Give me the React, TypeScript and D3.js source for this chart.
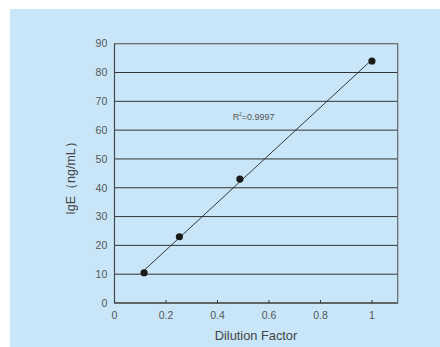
import React from "react";
import * as d3 from "d3";

const dilution = [0.115, 0.252, 0.487, 1.0];
const ige = [10.5, 23, 43, 84];
const yTicks = [0, 10, 20, 30, 40, 50, 60, 70, 80, 90];
const xTicks = [0, 0.2, 0.4, 0.6, 0.8, 1];
const r2Label = "0.9997";

export default function App() {
  const W = 440, H = 347;
  const left = 114.5, right = 397.7, top = 43.7, bottom = 303;
  const x = d3.scaleLinear().domain([0, 1.1]).range([left, right]);
  const y = d3.scaleLinear().domain([0, 90]).range([bottom, top]);

  const n = dilution.length;
  const mx = d3.mean(dilution)!;
  const my = d3.mean(ige)!;
  let sxy = 0, sxx = 0;
  for (let i = 0; i < n; i++) {
    sxy += (dilution[i] - mx) * (ige[i] - my);
    sxx += (dilution[i] - mx) ** 2;
  }
  const slope = sxy / sxx;
  const icpt = my - slope * mx;
  const x0 = d3.min(dilution)!, x1 = d3.max(dilution)!;
  const lineGen = d3.line<number>().x((d) => x(d)).y((d) => y(slope * d + icpt));

  const font = "'Liberation Sans', Arial, sans-serif";
  const narrow = "'Liberation Sans Narrow', 'Liberation Sans', Arial, sans-serif";
  return (
    <svg width={W} height={H} style={{ position: "absolute", left: 0, top: 0 }}>
      <rect x={10} y={9} width={W - 10} height={H - 9} fill="#c8e6f8" />
      {yTicks.slice(1, -1).map((t) => (
        <line key={t} x1={left} x2={right} y1={y(t)} y2={y(t)} stroke="#333" strokeWidth={1} />
      ))}
      <rect x={left} y={top} width={right - left} height={bottom - top} fill="none" stroke="#666" strokeWidth={1.2} />
      <line x1={left} x2={right} y1={bottom} y2={bottom} stroke="#333" strokeWidth={1} />
      <line x1={left} x2={left} y1={top} y2={bottom} stroke="#444" strokeWidth={1} />
      {xTicks.map((t) => (
        <line key={t} x1={x(t)} x2={x(t)} y1={bottom} y2={bottom - 3} stroke="#333" strokeWidth={1} />
      ))}
      {yTicks.map((t) => (
        <text key={t} x={107.3} y={y(t)} dy="0.36em" textAnchor="end" fontSize={10.5} fill="#555" fontFamily={narrow}>
          {t}
        </text>
      ))}
      {xTicks.map((t) => (
        <text key={t} x={x(t)} y={315} dy="0.36em" textAnchor="middle" fontSize={10.5} fill="#555" fontFamily={narrow}>
          {t}
        </text>
      ))}
      <path d={lineGen([x0, x1]) || ""} stroke="#222" strokeWidth={0.9} fill="none" />
      {dilution.map((d, i) => (
        <circle key={i} cx={x(d)} cy={y(ige[i])} r={3.6} fill="#1a1a1a" />
      ))}
      <text x={232.7} y={116.7} dy="0.35em" fontSize={9} fill="#555" fontFamily={font}>
        R<tspan dy="-3.5" fontSize={4.5}>2</tspan>
        <tspan dy="3.5">={r2Label}</tspan>
      </text>
      <text x={256} y={335.5} dy="0.35em" textAnchor="middle" fontSize={12.8} fill="#444" fontFamily={font}>
        Dilution Factor
      </text>
      <text transform={`translate(71,175) rotate(-90)`} dy="0.35em" textAnchor="middle" fontSize={12.5} fill="#444" fontFamily={font}>
        IgE（ng/mL）
      </text>
    </svg>
  );
}
